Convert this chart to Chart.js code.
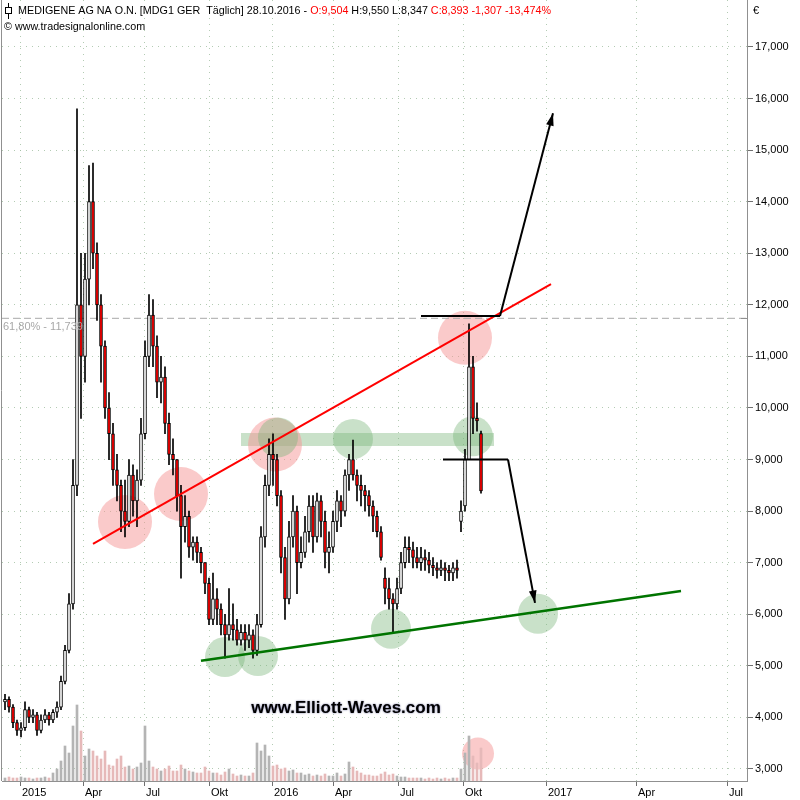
<!DOCTYPE html>
<html>
<head>
<meta charset="utf-8">
<script src="https://cdn.jsdelivr.net/npm/chart.js"></script>
<style>
  html, body { margin: 0; padding: 0; background: #fff; }
  canvas { display: block; }
</style>
</head>
<body>
<canvas id="chart" width="800" height="800"></canvas>
<script>
const firstDay = -15   // trading days from 1 Jan 2015
const binDays = 4

const opens = [4300, 4350, 4200, 3900, 3750, 3800, 4150, 4000, 4050, 3750, 3950, 4050, 3950, 4100,
  4200, 4700, 5300, 6200, 8500, 12000, 11000, 12500, 14000, 13000, 12000, 11200, 10000, 9500,
  8800, 8500, 8000, 7800, 8700, 8200, 8600, 9500, 11000, 11800, 11200, 10500, 10600, 9700,
  9100, 9000, 8300, 7700, 7900, 7300, 7400, 7200, 7000, 6600, 5900, 6300, 6100, 5800,
  5600, 5800, 5700, 5500, 5650, 5500, 5600, 5300, 5800, 7500, 8500, 9100, 9000, 8300,
  7100, 6300, 7500, 8000, 7000, 7200, 7600, 8100, 7500, 8200, 7800, 7200, 7300, 7800,
  8200, 8000, 8700, 9000, 8700, 8500, 8400, 8300, 8100, 7900, 7600, 6700, 6500, 6300,
  6200, 6500, 7000, 7300, 7250, 7100, 7000, 7100, 7050, 6950, 6900, 6850, 6900, 6850,
  6800, 6900, 7800, 8100, 9000, 10800, 9800, 9504]
const highs = [4450, 4400, 4250, 3950, 3900, 4300, 4200, 4150, 4100, 4050, 4150, 4100, 4150, 4300,
  4800, 5400, 6400, 9000, 15800, 13000, 13000, 14700, 14750, 13200, 12200, 11300, 10300, 9700,
  9100, 8600, 8600, 9000, 8900, 8800, 9800, 11300, 12200, 12100, 11400, 11000, 10800, 9900,
  9400, 9000, 8500, 8300, 8000, 7500, 7500, 7300, 7000, 6700, 6800, 6500, 6200, 6000,
  6500, 6200, 5900, 5800, 5800, 5800, 5700, 6000, 7700, 8700, 9400, 9500, 9100, 8400,
  7300, 7800, 8300, 8100, 7500, 7900, 8300, 8300, 8350, 8300, 8000, 7600, 8000, 8400,
  8300, 8800, 9100, 9380, 8800, 8700, 8500, 8400, 8200, 8000, 7700, 6900, 6700, 6400,
  6700, 7200, 7500, 7500, 7400, 7300, 7300, 7250, 7200, 7100, 7000, 7050, 7000, 6950,
  7000, 7050, 8200, 9200, 11630, 11000, 10100, 9550]
const lows = [4150, 4100, 3800, 3650, 3620, 3750, 3900, 3900, 3650, 3700, 3900, 3850, 3900, 4000,
  4150, 4650, 5250, 6100, 8300, 9800, 10500, 12000, 12700, 11700, 10500, 9800, 9000, 8500,
  8200, 7600, 7500, 7700, 7900, 7700, 8500, 9400, 10800, 10800, 10200, 10100, 9500, 8900,
  8700, 8000, 6700, 7400, 7100, 7050, 7000, 6800, 6400, 5800, 5800, 5800, 5600, 5150,
  5500, 5500, 5400, 5400, 5300, 5350, 5150, 5200, 5750, 7300, 8300, 8500, 8100, 6800,
  5900, 6200, 7300, 6400, 6900, 7100, 7400, 7200, 7400, 7500, 6900, 6800, 7200, 7600,
  7700, 7900, 8400, 8600, 8200, 8100, 8000, 7900, 7600, 7500, 7050, 6200, 6100, 5650,
  6100, 6400, 6900, 7000, 6900, 6900, 6850, 6850, 6800, 6750, 6700, 6750, 6650, 6650,
  6650, 6700, 7600, 8000, 9000, 9500, 9550, 8347]
const closes = [4350, 4200, 3900, 3750, 3800, 4150, 4000, 4050, 3750, 3950, 4050, 3950, 4100, 4200,
  4700, 5300, 6200, 8500, 12000, 11000, 12500, 14000, 13000, 12000, 11200, 10000, 9500, 8800,
  8500, 8000, 7800, 8700, 8200, 8600, 9500, 11000, 11800, 11200, 10500, 10600, 9700, 9100,
  9000, 8300, 7700, 7900, 7300, 7400, 7200, 7000, 6600, 5900, 6300, 6100, 5800, 5600,
  5800, 5700, 5500, 5650, 5500, 5600, 5300, 5800, 7500, 8500, 9100, 9000, 8300, 7100,
  6300, 7500, 8000, 7000, 7200, 7600, 8100, 7500, 8200, 7800, 7200, 7300, 7800, 8200,
  8000, 8700, 9000, 8700, 8500, 8400, 8300, 8100, 7900, 7600, 7100, 6500, 6300, 6200,
  6500, 7000, 7300, 7250, 7100, 7000, 7100, 7050, 6950, 6900, 6850, 6900, 6850, 6800,
  6900, 6850, 8000, 9000, 10800, 9800, 9750, 8393]
const volumes = [3, 4, 3, 3, 4, 3, 3, 2, 3, 3, 4, 3, 8, 12,
  20, 35, 28, 55, 76, 50, 25, 32, 30, 25, 22, 30, 16, 15,
  22, 25, 14, 15, 12, 14, 18, 55, 20, 14, 12, 10, 12, 15,
  10, 10, 16, 12, 10, 9, 8, 8, 14, 10, 8, 8, 6, 9,
  12, 7, 5, 6, 5, 5, 8, 38, 30, 36, 25, 15, 16, 12,
  13, 10, 11, 8, 8, 6, 7, 5, 6, 5, 7, 5, 5, 8,
  5, 7, 19, 14, 10, 8, 6, 6, 5, 5, 7, 9, 6, 7,
  5, 4, 4, 3, 3, 3, 3, 2, 3, 2, 3, 2, 3, 2,
  3, 3, 12, 28, 45, 25, 18, 33]
const volumeMax = 781

const xTickDays = [0, 63, 124, 189, 252, 313, 378, 443, 526, 616, 707]
const xTickLabels = ['2015', 'Apr', 'Jul', 'Okt', '2016', 'Apr', 'Jul', 'Okt', '2017', 'Apr', 'Jul']
const yTicks = [3000, 4000, 5000, 6000, 7000, 8000, 9000, 10000, 11000, 12000, 13000, 14000, 15000, 16000, 17000]

// drawn analysis
const redTrend = [{ x: 73, y: 7365 }, { x: 531, y: 12400 }]
const greenTrend = [{ x: 181, y: 5100 }, { x: 661, y: 6450 }]
const pinkCircles = [{ x: 105, y: 7790 }, { x: 161, y: 8330 }, { x: 255, y: 9290 }, { x: 445, y: 11360 }]
const pinkVolCircle = [{ x: 458, y: 3300 }]
const greenCircles = [{ x: 205, y: 5170 }, { x: 238, y: 5190 }, { x: 258, y: 9430 }, { x: 333, y: 9400 },
  { x: 371, y: 5720 }, { x: 453, y: 9450 }, { x: 518, y: 6010 }]
const bandDays = [221, 474]
const bandPrices = [9264, 9515]
const upperLevel = [{ x: 401, y: 11783 }, { x: 480, y: 11783 }]
const upperArrow = [{ x: 480, y: 11783 }, { x: 533, y: 15717 }]
const lowerLevel = [{ x: 423, y: 9000 }, { x: 488, y: 9000 }]
const lowerArrow = [{ x: 488, y: 9000 }, { x: 515, y: 6221 }]
const fibLevel = 11739
const fibLabel = '61,80% - 11,739'

const days = opens.map((_, i) => firstDay + i * binDays)
const isDown = closes.map((c, i) => c < opens[i])

const fmt = v => String(v).replace(/\B(?=(\d{3})+(?!\d))/g, ',')
const FONT = 'Liberation Sans'
const GRID = 'rgba(160,190,160,0.8)'

function lineSet(data, color, width, order, extra = {}) {
  return Object.assign({ type: 'line', data, borderColor: color, borderWidth: width, pointRadius: 0,
    fill: false, tension: 0, order }, extra)
}
function circleSet(data, color, radius, order) {
  return { type: 'scatter', data, backgroundColor: color, pointRadius: radius, pointHoverRadius: radius,
    pointBorderWidth: 0, borderWidth: 0, order }
}

const overlay = {
  id: 'overlay',
  afterDatasetsDraw(chart) {
    const { ctx, scales: { x, y } } = chart
    ctx.save()
    ctx.fillStyle = '#000'
    for (const arrow of [upperArrow, lowerArrow]) {
      const x1 = x.getPixelForValue(arrow[0].x), y1 = y.getPixelForValue(arrow[0].y)
      const x2 = x.getPixelForValue(arrow[1].x), y2 = y.getPixelForValue(arrow[1].y)
      const a = Math.atan2(y2 - y1, x2 - x1)
      ctx.beginPath()
      ctx.moveTo(x2, y2)
      ctx.lineTo(x2 - 13 * Math.cos(a - 0.3), y2 - 13 * Math.sin(a - 0.3))
      ctx.lineTo(x2 - 13 * Math.cos(a + 0.3), y2 - 13 * Math.sin(a + 0.3))
      ctx.closePath()
      ctx.fill()
    }
    // fib label
    ctx.fillStyle = '#a8a8a8'
    ctx.font = `11px "${FONT}"`
    ctx.textBaseline = 'top'
    ctx.fillText(fibLabel, 3, y.getPixelForValue(fibLevel) + 3)
    // fib tick on the price axis
    ctx.strokeStyle = '#909090'
    ctx.beginPath()
    const fy = Math.round(y.getPixelForValue(fibLevel)) + 0.5
    ctx.moveTo(chart.chartArea.right - 6, fy); ctx.lineTo(chart.chartArea.right, fy)
    ctx.stroke()
    ctx.restore()
  },
  afterDraw(chart) {
    const { ctx, chartArea: ca } = chart
    ctx.save()
    // left frame
    ctx.strokeStyle = '#909090'
    ctx.lineWidth = 1
    ctx.beginPath()
    ctx.moveTo(1.5, 0); ctx.lineTo(1.5, ca.bottom)
    ctx.stroke()
    // header icon
    ctx.strokeStyle = '#000'
    ctx.beginPath()
    ctx.moveTo(8.5, 3); ctx.lineTo(8.5, 19)
    ctx.stroke()
    ctx.fillStyle = '#fff'
    ctx.fillRect(5, 7, 7, 7)
    ctx.strokeRect(5.5, 7.5, 6, 6)
    // header text
    ctx.font = `10.75px "${FONT}"`
    ctx.textBaseline = 'middle'
    let tx = 18
    const parts = [
      ['MEDIGENE AG NA O.N. [MDG1 GER  Täglich] 28.10.2016 - ', '#000'],
      ['O:9,504', '#ff0000'],
      [' H:9,550 L:8,347 ', '#000'],
      ['C:8,393 -1,307 -13,474%', '#ff0000']
    ]
    for (const [t, c] of parts) {
      ctx.fillStyle = c
      ctx.fillText(t, tx, 11)
      tx += ctx.measureText(t).width
    }
    ctx.fillStyle = '#000'
    ctx.fillText('© www.tradesignalonline.com', 4, 27)
    ctx.font = `11px "${FONT}"`
    ctx.fillText('€', 753, 11)
    // watermark
    ctx.font = `bold 17px "${FONT}"`
    ctx.textAlign = 'center'
    ctx.shadowColor = 'rgba(0,0,90,0.6)'
    ctx.shadowBlur = 2
    ctx.fillStyle = '#000'
    ctx.fillText('www.Elliott-Waves.com', 346, 708)
    ctx.restore()
  }
}

new Chart(document.getElementById('chart'), {
  type: 'bar',
  data: {
    datasets: [
      lineSet([{ x: bandDays[0], y: bandPrices[1] }, { x: bandDays[1], y: bandPrices[1] }], 'rgba(0,0,0,0)', 0, 12),
      lineSet([{ x: bandDays[0], y: bandPrices[0] }, { x: bandDays[1], y: bandPrices[0] }], 'rgba(0,0,0,0)', 0, 12,
        { fill: '-1', backgroundColor: 'rgba(120,180,120,0.4)' }),
      circleSet(pinkCircles, 'rgba(245,150,150,0.5)', 27, 11),
      circleSet(pinkVolCircle, 'rgba(245,150,150,0.5)', 16, 11),
      circleSet(greenCircles, 'rgba(120,180,120,0.4)', 20, 10),
      {
        type: 'bar', yAxisID: 'yv', order: 9, grouped: false, barThickness: 2,
        data: days.map((d, i) => ({ x: d, y: volumes[i] })),
        backgroundColor: isDown.map(dn => dn ? '#e6b9b9' : '#b4b4b4')
      },
      lineSet([{ x: -18, y: fibLevel }, { x: 727, y: fibLevel }], '#a8a8a8', 1, 8, { borderDash: [7, 4] }),
      {
        type: 'bar', order: 6, grouped: false, barThickness: 1,
        data: days.map((d, i) => ({ x: d, y: [lows[i], highs[i]] })),
        backgroundColor: '#000'
      },
      {
        type: 'bar', order: 5, grouped: false, barThickness: 3,
        data: days.map((d, i) => ({ x: d, y: [opens[i], closes[i]] })),
        backgroundColor: isDown.map(dn => dn ? '#ff0000' : '#ffffff'),
        borderColor: '#000', borderWidth: 1, borderSkipped: false
      },
      lineSet(redTrend, '#ff0000', 2, 3),
      lineSet(greenTrend, '#007400', 2.5, 3),
      lineSet(upperLevel, '#000', 2, 2),
      lineSet(upperArrow, '#000', 2, 2),
      lineSet(lowerLevel, '#000', 2, 2),
      lineSet(lowerArrow, '#000', 2, 2)
    ]
  },
  options: {
    responsive: false,
    animation: false,
    events: [],
    layout: { autoPadding: false, padding: { left: 2, top: 0, right: 0, bottom: 0 } },
    plugins: { legend: { display: false }, tooltip: { enabled: false } },
    scales: {
      x: {
        type: 'linear', min: -18, max: 727, offset: false,
        afterBuildTicks: s => { s.ticks = xTickDays.map(v => ({ value: v })) },
        afterFit: s => { s.height = 19; s.paddingLeft = 0; s.paddingRight = 0 },
        ticks: {
          autoSkip: false, maxRotation: 0, align: 'start', labelOffset: 2, padding: 0,
          color: '#000', font: { family: FONT, size: 11 },
          callback: (v, i) => xTickLabels[i]
        },
        grid: { offset: false, color: GRID, tickColor: '#707070', tickLength: 5, tickBorderDash: [] },
        border: { color: '#909090', dash: [1, 5] }
      },
      y: {
        type: 'linear', position: 'right', min: 2767, max: 17911,
        afterBuildTicks: s => { s.ticks = yTicks.map(v => ({ value: v })) },
        afterFit: s => { s.width = 53; s.paddingTop = 0; s.paddingBottom = 0 },
        ticks: { color: '#000', padding: 2, font: { family: FONT, size: 11 }, callback: v => fmt(v) },
        grid: { color: GRID, tickColor: '#707070', tickLength: 6, tickBorderDash: [] },
        border: { color: '#909090', dash: [1, 5] }
      },
      yv: { type: 'linear', display: false, min: 0, max: volumeMax }
    }
  },
  plugins: [overlay]
})
</script>
</body>
</html>
